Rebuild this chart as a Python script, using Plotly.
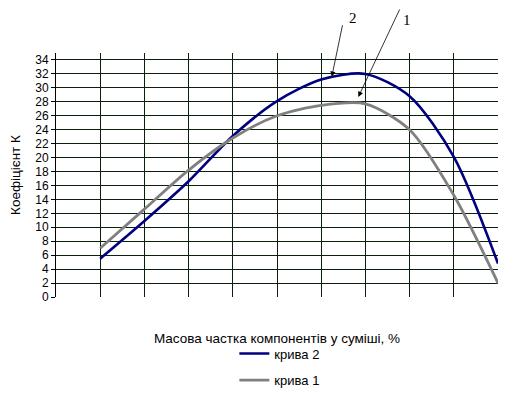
import plotly.graph_objects as go

x_vals = [1, 2, 3, 4, 5, 6, 7, 8, 9, 10]
curve2 = [5.5, 10.9, 16.6, 23.1, 28.1, 31.2, 32.0, 28.8, 20.1, 4.8]
curve1 = [7.0, 12.6, 18.2, 22.8, 26.0, 27.5, 27.7, 24.0, 14.6, 2.0]
y_ticks = list(range(0, 35, 2))
x_grid = [1, 2, 3, 4, 5, 6, 7, 8, 9]

grid_col = "#0a200a"
FONT = "Liberation Sans, Arial, sans-serif"
SERIF = "Liberation Serif, Times New Roman, serif"

fig = go.Figure()
fig.add_trace(go.Scatter(x=x_vals, y=curve2, mode="lines", name="крива 2",
                         line=dict(color="#000080", width=2.6, shape="spline", smoothing=0.8),
                         legend="legend"))
fig.add_trace(go.Scatter(x=x_vals, y=curve1, mode="lines", name="крива 1",
                         line=dict(color="#808080", width=2.8, shape="spline", smoothing=0.8),
                         legend="legend2"))

fig.update_layout(
    width=509, height=385,
    margin=dict(l=48, r=19, t=45, b=96, autoexpand=False),
    paper_bgcolor="white", plot_bgcolor="white",
    font=dict(family=FONT, size=13, color="black"),
    xaxis=dict(range=[0, 10], tickvals=x_grid, showticklabels=False, showgrid=True,
               gridcolor=grid_col, gridwidth=1.3, zeroline=False, showline=False, ticks="",
               automargin=False,
               title=dict(text="Масова частка компонентів у суміші, %", standoff=36,
                          font=dict(size=13.5))),
    yaxis=dict(range=[0, 35], tickvals=y_ticks, showgrid=True, gridcolor=grid_col,
               gridwidth=1.3, zeroline=True, zerolinecolor="rgba(0,0,0,0)",
               showline=True, linecolor="black", linewidth=1, ticks="outside", ticklen=4,
               tickcolor="black", tickfont=dict(size=12), automargin=False,
               title=dict(text="Коефіцієнт К", standoff=11, font=dict(size=13.5))),
    legend=dict(x=0.4035, y=-0.232, xanchor="left", yanchor="middle", bgcolor="rgba(0,0,0,0)",
                font=dict(size=13), itemwidth=30),
    legend2=dict(x=0.4035, y=-0.341, xanchor="left", yanchor="middle", bgcolor="rgba(0,0,0,0)",
                 font=dict(size=13), itemwidth=30),
    showlegend=True,
)

fig.add_annotation(x=6.24, y=31.6, ax=11, ay=-53, xref="x", yref="y",
                   showarrow=True, arrowhead=2, arrowsize=1.3, arrowwidth=0.8, arrowcolor="black",
                   text="")
fig.add_annotation(x=6.84, y=28.7, ax=42, ay=-97, xref="x", yref="y",
                   showarrow=True, arrowhead=2, arrowsize=1.3, arrowwidth=0.8, arrowcolor="black",
                   text="")
fig.add_annotation(x=0.672, y=1.145, text="2", showarrow=False, xref="paper", yref="paper",
                   xanchor="center", yanchor="middle", font=dict(family=SERIF, size=15))
fig.add_annotation(x=0.793, y=1.137, text="1", showarrow=False, xref="paper", yref="paper",
                   xanchor="center", yanchor="middle", font=dict(family=SERIF, size=15))

fig.write_html("out.html")
